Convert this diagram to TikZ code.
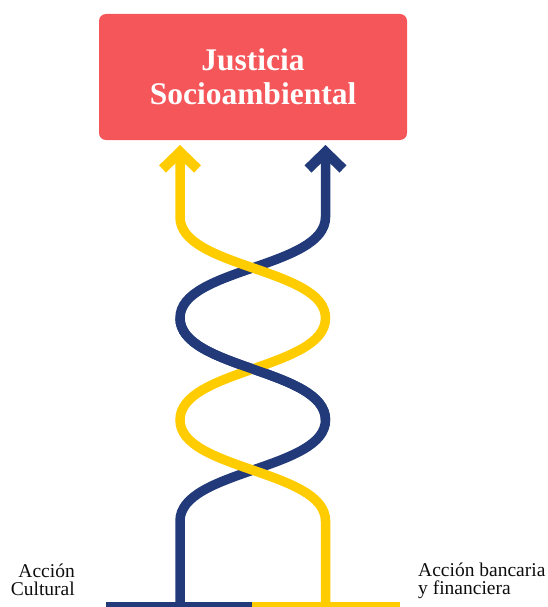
\documentclass[tikz,border=0pt]{standalone}
\usepackage{fontspec}
\setmainfont{Liberation Serif}
\usepackage{tikz}
\usetikzlibrary{arrows.meta}

\definecolor{rojo}{HTML}{F5565A}
\definecolor{amarillo}{HTML}{FFCC00}
\definecolor{marino}{HTML}{223A79}

\tikzset{
  hebra/.style={line width=9.5pt},
  flecha/.style={-{Straight Barb[length=17pt,width=35pt,line width=10pt]}},
  etiqueta/.style={text=black!95, font=\fontsize{19.5}{18}\selectfont, inner sep=0pt}
}

\begin{document}
\begin{tikzpicture}[x=1pt,y=-1pt]
    \useasboundingbox (0,0) rectangle (547,607);
    % Top box
    \node[fill=rojo, rounded corners=7pt, minimum width=308pt, minimum height=126pt,
          text=white, align=center, font=\bfseries\fontsize{31.5}{34}\selectfont]
          (just) at (253,77) {Justicia\\Socioambiental};
    % Ends of the two strands
    \coordinate (cultural) at (180,602);
    \coordinate (banca) at (325.5,602);
    \coordinate (puntaA) at (180,145);
    \coordinate (puntaM) at (325.5,145);
    % Base bar
    \coordinate (barI) at (106,604.5);
    \coordinate (barM) at (252,604.5);
    \coordinate (barD) at (400,604.5);
    \draw[marino, line width=5.5pt] (barI) -- (barM);
    \draw[amarillo, line width=5.5pt] (barM) -- (barD);
    % Blue strand
    \draw[marino, hebra, flecha] (cultural) -- (180,521)
        .. controls (180,470) and (325.5,470) .. (325.5,420)
        .. controls (325.5,369) and (180,369) .. (180,318)
        .. controls (180,268) and (325.5,268) .. (325.5,217) -- (puntaM);
    % Yellow strand
    \draw[amarillo, hebra, flecha] (banca) -- (325.5,521)
        .. controls (325.5,470) and (180,470) .. (180,420)
        .. controls (180,369) and (325.5,369) .. (325.5,318)
        .. controls (325.5,268) and (180,268) .. (180,217) -- (puntaA);
    % Blue on top at the middle crossing
    \draw[marino, hebra] (325.5,420) .. controls (325.5,369) and (180,369) .. (180,318);
    % Labels
    \node[etiqueta, anchor=base east, align=right] (cult) at (75,595) {Acción\\Cultural};
    \node[etiqueta, anchor=base west, align=left] (banc) at (418,594) {Acción bancaria\\y financiera};
\end{tikzpicture}
\end{document}
